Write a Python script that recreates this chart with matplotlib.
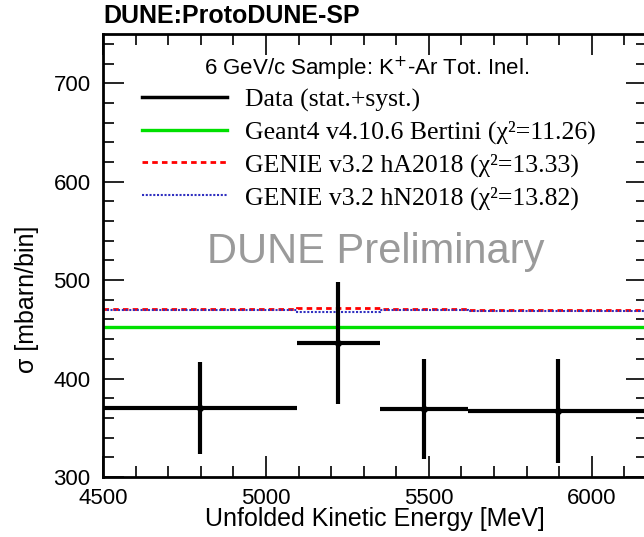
import matplotlib
matplotlib.use("Agg")
import matplotlib.pyplot as plt
import numpy as np
from matplotlib.lines import Line2D

# bin edges in unfolded kinetic energy [MeV]
bin_edges = [4500, 5095, 5350, 5620, 6170]
data_xsec = [370, 436, 369, 367]
data_err = [47, 62, 51, 53]

geant4_xsec = [452.5, 452.5, 452.5, 452.5]
genie_ha_xsec = [471, 472, 470.5, 469.5]
genie_hn_xsec = [470, 467.5, 470, 469]

legend_labels = [
    "Data (stat.+syst.)",
    "Geant4 v4.10.6 Bertini (χ²=11.26)",
    "GENIE v3.2 hA2018 (χ²=13.33)",
    "GENIE v3.2 hN2018 (χ²=13.82)",
]

sans = "Liberation Sans"
serif = "Liberation Serif"

fig = plt.figure(figsize=(6.44, 5.37), dpi=100)
ax = fig.add_axes([0.16, 0.1117, 0.845, 0.825])

edges = np.array(bin_edges)
centers = 0.5 * (edges[:-1] + edges[1:])
half_w = 0.5 * np.diff(edges)

ax.stairs(geant4_xsec, edges, baseline=None, color="#00e000", lw=2.4)
ax.stairs(genie_ha_xsec, edges, baseline=None, color="red", lw=2, ls=(0, (2, 1.5)))
ax.stairs(genie_hn_xsec, edges, baseline=None, color="#3030c0", lw=1.5, ls=(0, (1, 0.8)))
ax.errorbar(centers, data_xsec, xerr=half_w, yerr=data_err, fmt="o", ms=4,
            color="black", elinewidth=3, capsize=0)

ax.set_xlim(4500, 6170)
ax.set_ylim(300, 750)
ax.set_xticks([4500, 5000, 5500, 6000])
ax.set_xticks(np.arange(4500, 6170, 100), minor=True)
ax.set_yticks([300, 400, 500, 600, 700])
ax.set_yticks(np.arange(300, 751, 20), minor=True)
ax.tick_params(which="both", direction="in", top=True, right=True, width=1.2)
ax.tick_params(which="major", length=15)
ax.tick_params(which="minor", length=8)
ax.tick_params(axis="x", pad=8)
ax.tick_params(axis="y", pad=9)
for lab in ax.get_xticklabels() + ax.get_yticklabels():
    lab.set_fontfamily(sans)
    lab.set_fontsize(16)
for side in ["left", "bottom", "top"]:
    ax.spines[side].set_linewidth(2)
ax.spines["right"].set_visible(False)

ax.set_xlabel("Unfolded Kinetic Energy [MeV]", fontfamily=sans, fontsize=18)
ax.xaxis.set_label_coords(0.5, -0.068)
ax.set_ylabel("σ [mbarn/bin]", fontfamily=sans, fontsize=18)
ax.yaxis.set_label_coords(-0.118, 0.40)

fig.text(0.16, 0.992, "DUNE:ProtoDUNE-SP", fontfamily=sans, fontweight="bold",
         fontsize=18, va="top", ha="left")

# legend header
ax.text(0.485, 0.922, "6 GeV/c Sample: K$^{+}$-Ar Tot. Inel.", transform=ax.transAxes,
        ha="center", va="center", fontfamily=sans, fontsize=16)

handles = [
    Line2D([], [], color="black", lw=2.5),
    Line2D([], [], color="#00e000", lw=2.4),
    Line2D([], [], color="red", lw=2, ls=(0, (2, 1.5))),
    Line2D([], [], color="#3030c0", lw=1.5, ls=(0, (1, 0.8))),
]
ax.legend(handles, legend_labels, loc="upper left", bbox_to_anchor=(0.03, 0.93),
          frameon=False, prop={"family": serif, "size": 18.5}, handlelength=3.3,
          handletextpad=0.7, labelspacing=0.36)

ax.text(0.502, 0.508, "DUNE Preliminary", transform=ax.transAxes, ha="center",
        va="center", fontfamily=sans, fontsize=30, color="#9a9a9a")

fig.savefig("out.png", dpi=100)
